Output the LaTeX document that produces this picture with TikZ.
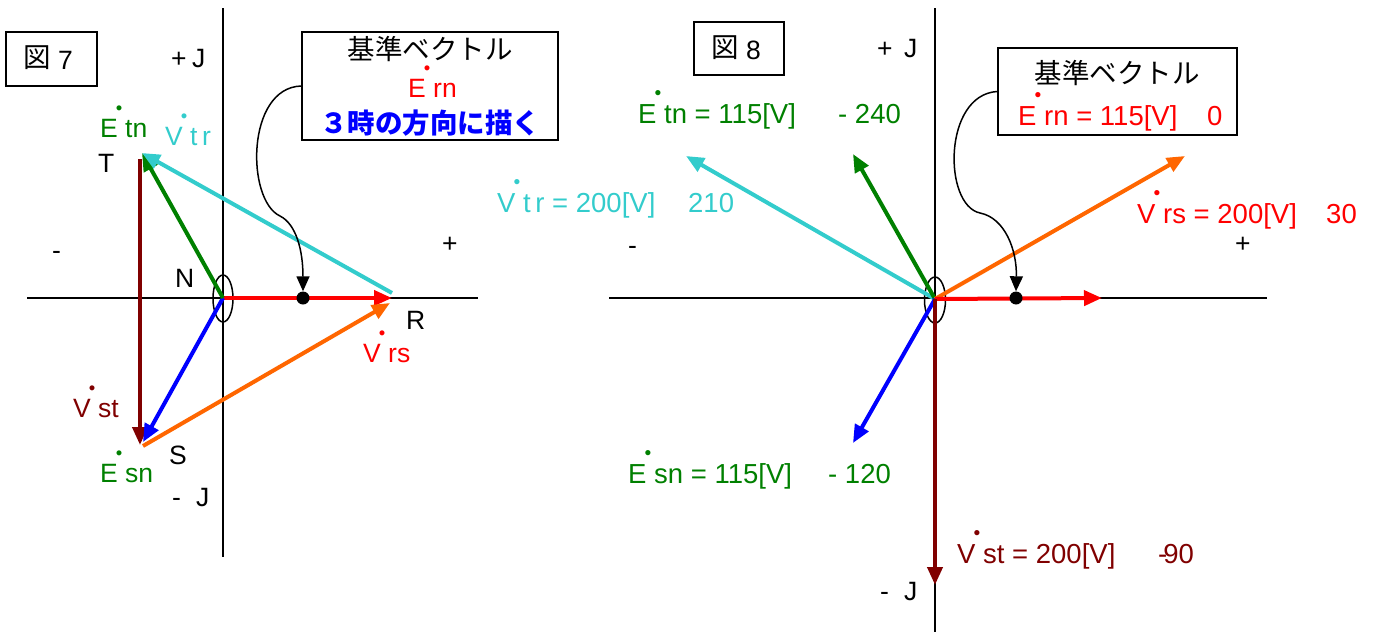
\documentclass[tikz,border=0pt]{standalone}
\usepackage{fontspec}
\setmainfont{Liberation Sans}
\newfontfamily\jp{Noto Sans CJK JP}
\usetikzlibrary{arrows.meta}
\definecolor{cgreen}{RGB}{0,128,0}
\definecolor{ccyan}{RGB}{51,204,204}
\definecolor{corange}{RGB}{255,102,0}
\definecolor{cmaroon}{RGB}{128,0,0}
\definecolor{cred}{RGB}{255,0,0}
\definecolor{cblue}{RGB}{0,0,255}
\newcommand\dt{\rlap{\hspace{-2pt}\raisebox{0.86em}{\scalebox{0.7}{\textbullet}}}}
\begin{document}
\begin{tikzpicture}[x=1pt,y=-1pt,
  axis/.style={line width=1.5pt,black},
  vec/.style={line width=4pt,-{Triangle[length=18pt,width=15pt]}},
  box/.style={draw,line width=2pt,inner sep=0pt,fill=white},
  lbl/.style={anchor=base west,inner sep=0pt,font=\fontsize{26.5}{30}\selectfont},
  lbb/.style={anchor=base west,inner sep=0pt,font=\fontsize{27.5}{31}\selectfont},
  jpl/.style={inner sep=0pt,font=\jp\fontsize{27.5}{31}\selectfont},
  callout/.style={line width=1.5pt,-{Triangle[length=15pt,width=13pt]}},
  ell/.style={line width=1.5pt},
  dotm/.style={circle,fill=black,inner sep=0pt,minimum size=13pt}]
\useasboundingbox (0,0) rectangle (1373,632);

% ===================== Figure 7 =====================
\coordinate (N7) at (223,298);
\coordinate (R7) at (392,298);
\coordinate (R7c) at (392,293);
\coordinate (R7o) at (390,303);
\coordinate (T7) at (142,153);
\coordinate (T7m) at (140,159);
\coordinate (S7) at (143,442);
\coordinate (S7o) at (143,446);
\coordinate (S7m) at (140,445);
\coordinate (X7l) at (27,298);
\coordinate (X7r) at (478,298);
\coordinate (Y7t) at (223,8);
\coordinate (Y7b) at (223,557);

\draw[axis] (X7l) -- (X7r);
\draw[axis] (Y7t) -- (Y7b);
\draw[ell] (223,298.5) ellipse [x radius=10, y radius=23.5];

\draw[vec,cmaroon] (T7m) -- (S7m);
\draw[vec,cred] (N7) -- (R7);
\draw[vec,corange] (S7o) -- (R7o);
\draw[vec,cblue] (N7) -- (S7);
\draw[vec,cgreen] (N7) -- (T7);
\draw[vec,ccyan] (R7c) -- (T7);
\node[dotm] (D7) at (303,298) {};

\node[box,minimum width=91pt,minimum height=54pt] (F7) at (51.5,59) {};
\node[jpl] (F7t) at (37,58) {図};
\node[lbl] (F7n) at (58,69) {7};

\node[box,minimum width=256pt,minimum height=108pt] (CB7) at (430,86) {};
\node[jpl] (CB7a) at (430,49) {基準ベクトル};
\node[lbl,text=cred] (CB7b) at (408,97) {E\dt\ rn};
\node[jpl,text=cblue,font=\jp\bfseries\fontsize{27.5}{31}\selectfont] (CB7c) at (430,123) {３時の方向に描く};
\draw[callout] (CB7.west) .. controls (246,88) and (246,200) .. (280,216)
  .. controls (296,224) and (303,250) .. (D7.north);

\node[lbl] (P7j) at (171,67) {+};
\node[lbl] (J7p) at (192,67) {J};
\node[lbl] (M7j) at (172,506) {-};
\node[lbl] (J7m) at (196,506) {J};
\node[lbl] (M7) at (52,259) {-};
\node[lbl] (P7) at (442,252) {+};
\node[lbl,text=cgreen] (L7etn) at (100,137) {E\dt\ tn};
\node[lbl,text=ccyan] (L7vtr) at (165,145) {V\dt\ t\,r};
\node[lbl] (L7T) at (98,172) {T};
\node[lbl] (L7N) at (175,287) {N};
\node[lbl] (L7R) at (406,329) {R};
\node[lbl,text=cred] (L7vrs) at (363,362) {V\dt\ rs};
\node[lbl,text=cmaroon] (L7vst) at (73,417) {V\dt\ st};
\node[lbl] (L7S) at (169,464) {S};
\node[lbl,text=cgreen] (L7esn) at (100,482) {E\dt\ sn};

% ===================== Figure 8 =====================
\coordinate (O8) at (935,299);
\coordinate (Ern8) at (1102,298);
\coordinate (Vrs8) at (1185,156);
\coordinate (Vtr8) at (686,156);
\coordinate (Etn8) at (853,154);
\coordinate (Esn8) at (853,443);
\coordinate (Vst8) at (935,585);
\coordinate (X8l) at (609,298);
\coordinate (X8r) at (1267,298);
\coordinate (Y8t) at (935,8);
\coordinate (Y8b) at (935,632);

\draw[axis] (X8l) -- (X8r);
\draw[axis] (Y8t) -- (Y8b);
\draw[ell] (935,300) ellipse [x radius=10.5, y radius=23];

\draw[vec,ccyan] (O8) -- (Vtr8);
\draw[vec,cgreen] (O8) -- (Etn8);
\draw[vec,corange] (O8) -- (Vrs8);
\draw[vec,cred] (O8) -- (Ern8);
\draw[vec,cblue] (O8) -- (Esn8);
\draw[vec,cmaroon] (O8) -- (Vst8);
\node[dotm] (D8) at (1016,298) {};

\node[box,minimum width=90pt,minimum height=53pt] (F8) at (739,48.5) {};
\node[jpl] (F8t) at (725,48) {図};
\node[lbl] (F8n) at (746,59) {8};

\node[box,minimum width=239pt,minimum height=87pt] (CB8) at (1117.5,91.5) {};
\node[jpl] (CB8a) at (1117,73) {基準ベクトル};
\node[lbb,text=cred] (CB8b) at (1018,125) {E\dt\ rn = 115[V]};
\node[lbb,text=cred] (CB8c) at (1207,125) {0};
\draw[callout] (CB8.west) .. controls (943,95) and (943,205) .. (980,213)
  .. controls (1005,218) and (1017,250) .. (D8.north);

\node[lbl] (P8j) at (877,57) {+};
\node[lbl] (J8p) at (904,57) {J};
\node[lbl] (M8j) at (880,600) {-};
\node[lbl] (J8m) at (904,600) {J};
\node[lbl] (M8) at (628,254) {-};
\node[lbl] (P8) at (1235,252) {+};

\node[lbb,text=cgreen] (L8etn) at (638,123) {E\dt\ tn = 115[V]};
\node[lbb,text=cgreen] (L8etna) at (838,123) {-\ 240};
\node[lbb,text=ccyan] (L8vtr) at (497,212) {V\dt\ t\,r = 200[V]};
\node[lbb,text=ccyan] (L8vtra) at (688,212) {210};
\node[lbb,text=cred] (L8vrs) at (1137,223) {V\dt\ rs = 200[V]};
\node[lbb,text=cred] (L8vrsa) at (1326,223) {30};
\node[lbb,text=cgreen] (L8esn) at (628,483) {E\dt\ sn = 115[V]};
\node[lbb,text=cgreen] (L8esna) at (828,483) {-\ 120};
\node[lbb,text=cmaroon] (L8vst) at (957,563) {V\dt\ st = 200[V]};
\node[lbb,text=cmaroon] (L8vsta) at (1158,563) {-\kern-4pt 90};
\end{tikzpicture}
\end{document}
